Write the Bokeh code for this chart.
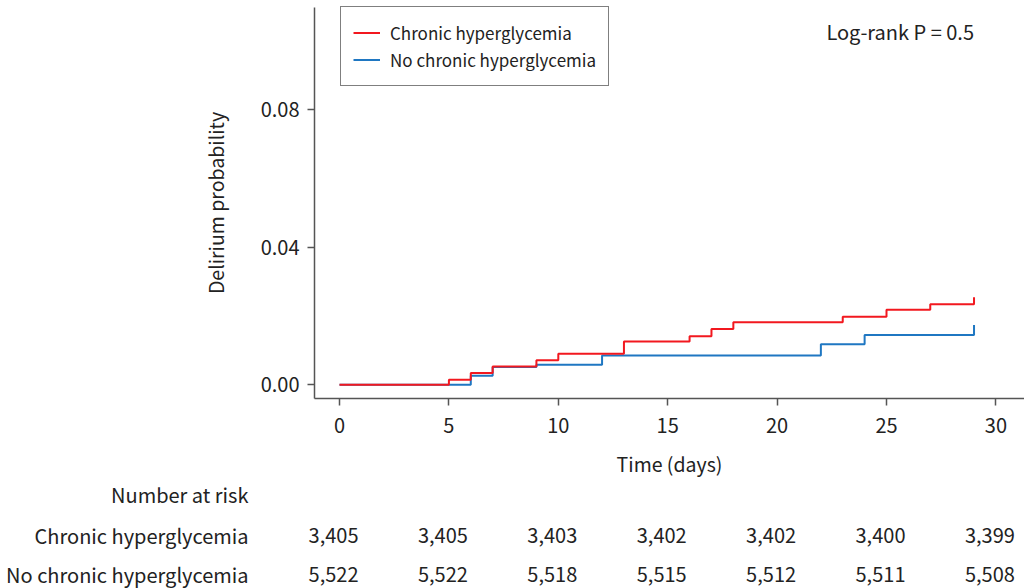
from bokeh.plotting import figure
from bokeh.models import Range1d, FixedTicker, Legend, LegendItem, Label
from bokeh.core.properties import value
from bokeh.embed import file_html
from bokeh.resources import INLINE

FONT = "Noto Sans CJK KR"

# ---- data ----
red_times = [0, 5, 6, 7, 9, 10, 13, 16, 17, 18, 23, 25, 27, 29]
red_prob = [0.0, 0.0015, 0.0034, 0.0053, 0.0071, 0.0090, 0.0126, 0.0141, 0.0162, 0.0182, 0.0198, 0.0218, 0.0234, 0.0254]
blue_times = [0, 6, 7, 9, 12, 22, 24, 29]
blue_prob = [0.0, 0.0026, 0.0052, 0.0058, 0.0085, 0.0118, 0.0145, 0.0174]

x_ticks = [0, 5, 10, 15, 20, 25, 30]
y_ticks = [0.0, 0.04, 0.08]
y_tick_labels = ["0.00", "0.04", "0.08"]

group_names = ["Chronic hyperglycemia", "No chronic hyperglycemia"]
risk_title = "Number at risk"
risk_times = [0, 5, 10, 15, 20, 25, 30]
risk_chronic = ["3,405", "3,405", "3,403", "3,402", "3,402", "3,400", "3,399"]
risk_no_chronic = ["5,522", "5,522", "5,518", "5,515", "5,512", "5,511", "5,508"]

RED = "#f2181f"
BLUE = "#1f77c2"
AXIS = "#555555"
TXT = "#222222"
FS = "20px"

# axis extents (data units) of the survival panel
X_LO, X_HI = -1.143, 31.307
Y_LO, Y_HI = -0.00398, 0.10962

W, H = 1024, 588
p = figure(width=W, height=H, x_range=Range1d(-15.494, X_HI),
           y_range=Range1d(-0.05918, 0.11165), output_backend="svg",
           toolbar_location=None, min_border=0)
p.title.visible = False
p.outline_line_color = None
p.grid.visible = False

rb = p.step(blue_times, blue_prob, mode="after", line_color=BLUE, line_width=2)
rr = p.step(red_times, red_prob, mode="after", line_color=RED, line_width=2)

for ax in (p.xaxis[0], p.yaxis[0]):
    ax.axis_line_color = AXIS
    ax.axis_line_width = 1.5
    ax.major_tick_line_color = AXIS
    ax.major_tick_line_width = 1.5
    ax.major_tick_out = 7
    ax.major_tick_in = 0
    ax.minor_tick_line_color = None
    ax.major_label_text_font = FONT
    ax.major_label_text_font_size = FS
    ax.major_label_text_color = TXT
    ax.axis_label_text_font = FONT
    ax.axis_label_text_font_size = "19.5px"
    ax.axis_label_text_font_style = "normal"
    ax.axis_label_text_color = TXT

p.xaxis.fixed_location = Y_LO
p.xaxis.bounds = (X_LO, X_HI)
p.xaxis.ticker = FixedTicker(ticks=x_ticks)
p.xaxis.axis_label = "Time (days)"
p.xaxis.major_label_standoff = 12
p.xaxis.axis_label_standoff = 13

p.yaxis.fixed_location = X_LO
p.yaxis.bounds = (Y_LO, Y_HI)
p.yaxis.ticker = FixedTicker(ticks=y_ticks)
p.yaxis.major_label_overrides = {t: l for t, l in zip(y_ticks, y_tick_labels)}
p.yaxis.axis_label = "Delirium probability"
p.yaxis.major_label_standoff = 8
p.yaxis.axis_label_standoff = 28

legend = Legend(items=[LegendItem(label=group_names[0], renderers=[rr]),
                       LegendItem(label=group_names[1], renderers=[rb])],
                location=(340, 502))
legend.border_line_color = "black"
legend.border_line_width = 1.2
legend.background_fill_color = "white"
legend.background_fill_alpha = 1
legend.label_text_font = FONT
legend.label_text_font_size = "17px"
legend.label_text_color = TXT
legend.glyph_width = 27
legend.glyph_height = 27
legend.label_height = 27
legend.label_standoff = 10
legend.padding = 12
legend.spacing = 0
legend.margin = 0
p.add_layout(legend, "center")

p.add_layout(Label(x=29, y=0.1026, text="Log-rank P = 0.5", text_align="right",
                   text_baseline="middle", text_font=FONT, text_font_size=FS,
                   text_color=TXT))

# ---- number at risk table (below the axis) ----
row_y = [-0.03187, -0.04378, -0.05511]   # vertical placement of the three rows
label_x = -4.16

p.text(x=[label_x] * 3, y=row_y, text=[risk_title] + group_names,
       text_align="right", text_baseline="middle", text_font=value(FONT),
       text_font_size=FS, text_color=TXT)
p.text(x=risk_times, y=[row_y[1]] * len(risk_times), text=risk_chronic,
       text_align="center", text_baseline="middle", x_offset=-6,
       text_font=value(FONT), text_font_size=FS, text_color=TXT)
p.text(x=risk_times, y=[row_y[2]] * len(risk_times), text=risk_no_chronic,
       text_align="center", text_baseline="middle", x_offset=-6,
       text_font=value(FONT), text_font_size=FS, text_color=TXT)

open("out.html", "w").write(file_html(p, INLINE))
